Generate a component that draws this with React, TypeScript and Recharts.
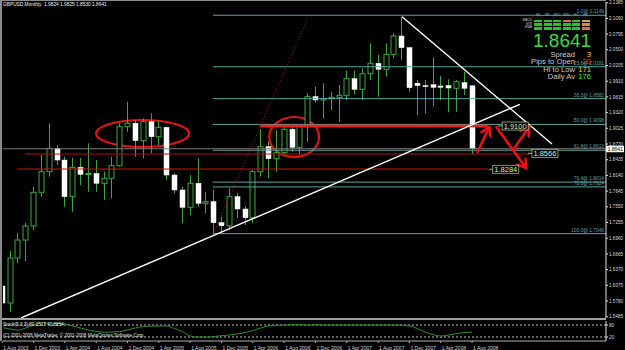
import React from 'react';
import {
  ComposedChart, Bar, Line, XAxis, YAxis, ReferenceLine, ReferenceArea, ReferenceDot,
} from 'recharts';

// monthly bars, Aug 2003 .. Aug 2008
const opens = [
  1.6062, 1.5742, 1.6588, 1.6926, 1.7189, 1.7822, 1.8210, 1.8649, 1.8429, 1.7740,
  1.8292, 1.8161, 1.8176, 1.7992, 1.8086, 1.8322, 1.9055, 1.9119, 1.8792, 1.9149,
  1.8867, 1.9044, 1.8147, 1.7866, 1.7541, 1.7992, 1.7616, 1.7646, 1.7251, 1.7195,
  1.7740, 1.7509, 1.7345, 1.8210, 1.8679, 1.8454, 1.8567, 1.9006, 1.8668, 1.9055,
  1.9619, 1.9557, 1.9581, 1.9607, 1.9645, 1.9957, 1.9758, 2.0051, 2.0246, 2.0134,
  2.0415, 2.0759, 2.0539, 1.9871, 1.9826, 1.9844, 1.9820, 1.9826, 1.9777, 1.9882,
  1.9824,
];
const highs = [
  1.6118, 1.6725, 1.7058, 1.7246, 1.7928, 1.8523, 1.9119, 1.8711, 1.8491, 1.8467,
  1.8467, 1.8743, 1.8429, 1.8210, 1.8491, 1.9119, 1.9525, 1.9181, 1.9213, 1.9307,
  1.9168, 1.9055, 1.8179, 1.7928, 1.8147, 1.8461, 1.7834, 1.7866, 1.7364, 1.7898,
  1.7804, 1.7571, 1.8241, 1.9006, 1.8773, 1.8993, 1.9087, 1.9055, 1.9087, 1.9683,
  1.9807, 1.9871, 1.9713, 1.9839, 2.0107, 2.0107, 2.0152, 2.0622, 2.0402, 2.0622,
  2.0810, 2.1122, 2.0558, 1.9933, 1.9933, 2.0359, 2.0008, 1.9946, 1.9933, 2.0089,
  1.9825,
];
const lows = [
  1.5686, 1.5579, 1.6494, 1.6530, 1.7114, 1.7740, 1.8116, 1.8335, 1.7552, 1.7458,
  1.7960, 1.7834, 1.7834, 1.7678, 1.7710, 1.8303, 1.8961, 1.8491, 1.8461, 1.8555,
  1.8711, 1.8054, 1.7804, 1.7240, 1.7396, 1.7552, 1.7428, 1.7052, 1.7082, 1.7114,
  1.7334, 1.7208, 1.7240, 1.8116, 1.8086, 1.8210, 1.8530, 1.8585, 1.8523, 1.8773,
  1.9500, 1.9213, 1.9369, 1.9149, 1.9557, 1.9664, 1.9557, 1.9933, 1.9619, 1.9995,
  2.0340, 2.0308, 1.9713, 1.9275, 1.9307, 1.9431, 1.9557, 1.9326, 1.9337, 1.9651,
  1.8530,
];
const closes = [
  1.5742, 1.6588, 1.6926, 1.7189, 1.7822, 1.8210, 1.8649, 1.8429, 1.7740, 1.8292,
  1.8161, 1.8176, 1.7992, 1.8086, 1.8322, 1.9055, 1.9119, 1.8792, 1.9149, 1.8867,
  1.9044, 1.8147, 1.7866, 1.7541, 1.7992, 1.7616, 1.7646, 1.7251, 1.7195, 1.7740,
  1.7509, 1.7345, 1.8210, 1.8679, 1.8454, 1.8567, 1.9006, 1.8668, 1.9055, 1.9619,
  1.9557, 1.9581, 1.9607, 1.9645, 1.9957, 1.9758, 2.0051, 2.0246, 2.0134, 2.0415,
  2.0759, 2.0539, 1.9788, 1.9826, 1.9822, 1.9795, 1.9795, 1.9782, 1.9901, 1.9777,
  1.8641,
];
const stoch = [
  67, 60, 55, 65, 80, 90, 90, 88, 85, 75, 65, 55, 48, 44, 45, 47, 55, 65, 72, 75,
  75, 75, 62, 48, 25, 20, 20, 22, 27, 30, 35, 42, 52, 65, 75, 78, 80, 81, 81, 80,
  81, 80, 80, 80, 80, 81, 80, 80, 80, 80, 80, 79, 75, 62, 45, 32, 25, 30, 37, 42, 45,
];
const dateLabels = [
  '1 Aug 2003', '1 Dec 2003', '1 Apr 2004', '1 Aug 2004', '1 Dec 2004', '1 Apr 2005',
  '1 Aug 2005', '1 Dec 2005', '1 Apr 2006', '1 Aug 2006', '1 Dec 2006', '1 Apr 2007',
  '1 Aug 2007', '1 Dec 2007', '1 Apr 2008', '1 Aug 2008',
];
const priceTicks = [
  2.1385, 2.1090, 2.0795, 2.0500, 2.0205, 1.9910, 1.9615, 1.9320, 1.9025, 1.8730,
  1.8435, 1.8140, 1.7845, 1.7550, 1.7255, 1.6960, 1.6665, 1.6370, 1.6075, 1.5780, 1.5485,
];
const fibRatios = ['0.0', '23.6', '38.2', '50.0', '61.8', '76.4', '78.6', '100.0'];
const fibPrices = [2.1149, 2.0181, 1.9582, 1.9098, 1.8613, 1.8014, 1.7924, 1.7046];
const lastPrice = 1.8641;

// drawn objects (bar index, price)
const redLevels = [
  { from: 32.9, to: 62.0, price: 1.9068, width: 2.5, color: '#ff1a1a' },
  { from: 2.9, to: 67.4, price: 1.8542, width: 1, color: '#b01010' },
  { from: 1.9, to: 62.0, price: 1.8260, width: 1, color: '#d01515' },
];
const priceTags = [
  { i: 65.5, price: 1.9068, text: '1.9100' },
  { i: 69.3, price: 1.8555, text: '1.8566' },
  { i: 64.3, price: 1.8255, text: '1.8284' },
];
const trendLines = [
  { a: [2.4, 1.5461], b: [66.1, 1.9476] },
  { a: [51.06, 2.1122], b: [70.2, 1.8730] },
];
const projection = { a: [26.9, 1.7020], b: [38.9, 2.1060] };
const arrows = [
  { a: [60.7, 1.8580], b: [62.2, 1.9049] },
  { a: [63.1, 1.9049], b: [66.9, 1.8279] },
  { a: [65.4, 1.8655], b: [67.3, 1.9049] },
];
const ellipses = [
  { x1: 11.98, x2: 23.86, y1: 1.8674, y2: 1.9181 },
  { x1: 34.1, x2: 40.46, y1: 1.8486, y2: 1.9237 },
];

const timeframes = ['M1', 'M5', 'M15', 'M30', 'H1', 'H4'];
const signalRows = ['MACD', 'STR', 'EMA'];
const signals = [
  ['g', 'g', 'g', 'r', 'g', 'y'],
  ['g', 'g', 'g', 'g', 'g', 'o'],
  ['g', 'g', 'g', 'g', 'g', 'r'],
];
const statNames = ['Spread', 'Pips to Open', 'Hi to Low', 'Daily Av'];
const statValues = ['3', '20', '171', '176'];
const statColors = ['#f0d000', '#e84a20', '#f0d000', '#40e040'];

const data = opens.map((o, i) => ({
  i,
  open: o,
  high: highs[i],
  low: lows[i],
  close: closes[i],
  range: [lows[i], highs[i]],
  stoch: stoch[i],
}));

const X_DOMAIN = [0.1, 77.1];
const FONT = 'Liberation Sans, Arial, sans-serif';
const WICK = '#3aa83a';
const FIB = '#5fa3a3';
const sigColor: Record<string, string> = { g: '#27c427', r: '#e06060', y: '#c8b020', o: '#e08a20' };

const Candle = (props: any) => {
  const { x, y, width, height, payload } = props;
  if (!payload || !height) return null;
  const k = height / (payload.high - payload.low);
  const py = (p: number) => y + (payload.high - p) * k;
  const cx = Math.round(x + width / 2) + 0.5;
  const up = payload.close > payload.open;
  const top = py(Math.max(payload.open, payload.close));
  const bot = py(Math.min(payload.open, payload.close));
  return (
    <g>
      <line x1={cx} x2={cx} y1={y} y2={y + height} stroke={WICK} strokeWidth={1} />
      <rect
        x={cx - 2.5}
        y={top}
        width={5}
        height={Math.max(bot - top, 1)}
        fill={up ? '#000' : '#fff'}
        stroke={up ? WICK : '#fff'}
        strokeWidth={up ? 1 : 0.5}
      />
    </g>
  );
};

const ArrowShape = (props: any) => {
  const { x1, y1, x2, y2 } = props;
  const a = Math.atan2(y2 - y1, x2 - x1);
  const L = 8;
  const W = 5;
  const bx = x2 - L * Math.cos(a);
  const by = y2 - L * Math.sin(a);
  const p1 = `${bx + W * Math.sin(a)},${by - W * Math.cos(a)}`;
  const p2 = `${bx - W * Math.sin(a)},${by + W * Math.cos(a)}`;
  return (
    <g stroke="#ee1111" strokeWidth={2.5} fill="none" strokeLinecap="round">
      <line x1={x1} y1={y1} x2={x2} y2={y2} />
      <polyline points={`${p1} ${x2},${y2} ${p2}`} />
    </g>
  );
};

const EllipseShape = (props: any) => {
  const { x, y, width, height } = props;
  return (
    <ellipse cx={x + width / 2} cy={y + height / 2} rx={width / 2} ry={height / 2}
      fill="none" stroke="#e01414" strokeWidth={2.2} />
  );
};

const tagShape = (text: string) => (props: any) => {
  const { cx, cy } = props;
  return (
    <g>
      <line x1={cx - 17} x2={cx - 13} y1={cy} y2={cy} stroke="#9cc08c" />
      <rect x={cx - 13} y={cy - 4} width={26} height={8} fill="#000" stroke="#9cc08c" strokeWidth={0.8} />
      <text x={cx} y={cy + 2.6} textAnchor="middle" fontSize={7.5} fill="#d8e8d0" fontFamily={FONT}>{text}</text>
    </g>
  );
};

const PriceBox = (props: any) => {
  const { viewBox } = props;
  const x = viewBox.x + viewBox.width;
  return (
    <g>
      <rect x={x} y={viewBox.y - 3} width={18} height={6.5} fill="#fff" />
      <text x={x + 1.5} y={viewBox.y + 2} fontSize={5} fill="#000" fontFamily={FONT}>{lastPrice.toFixed(4)}</text>
    </g>
  );
};

const DateTick = (props: any) => {
  const { x, y, payload } = props;
  return (
    <text x={x + 1} y={y + 5} fontSize={5} fill="#d0d0d0" fontFamily={FONT}>
      {dateLabels[Math.round(payload.value / 4)]}
    </text>
  );
};

export default function App() {
  return (
    <div style={{ position: 'absolute', left: 0, top: 0, width: 625, height: 350, background: '#000', overflow: 'hidden', fontFamily: FONT }}>
      <ComposedChart width={625} height={318} data={data} margin={{ top: 2, right: 0, left: 3, bottom: 0 }}>
        <XAxis dataKey="i" type="number" domain={X_DOMAIN} allowDataOverflow hide />
        <YAxis
          orientation="right"
          width={19}
          domain={[1.5461, 2.1398]}
          allowDataOverflow
          ticks={priceTicks}
          interval={0}
          tickFormatter={(v: number) => v.toFixed(4)}
          axisLine={{ stroke: '#e0e0e0' }}
          tickLine={{ stroke: '#e0e0e0' }}
          tickSize={2}
          tickMargin={1}
          tick={{ fill: '#d8d8d8', fontSize: 4.6, fontFamily: FONT }}
        />
        {fibPrices.map((p, k) => (
          <ReferenceLine
            key={'fib' + k}
            segment={[{ x: 26.9, y: p }, { x: X_DOMAIN[1], y: p }]}
            stroke={FIB}
            strokeWidth={1}
            ifOverflow="hidden"
            label={{ value: `${fibRatios[k]}@ ${p.toFixed(4)}`, position: 'insideBottomRight', offset: 2, fill: FIB, fontSize: 4.8, fontFamily: FONT }}
          />
        ))}
        <ReferenceLine y={lastPrice} stroke="#7a7a7a" strokeWidth={1} label={<PriceBox />} />
        {redLevels.map((r, k) => (
          <ReferenceLine
            key={'red' + k}
            segment={[{ x: r.from, y: r.price }, { x: r.to, y: r.price }]}
            stroke={r.color}
            strokeWidth={r.width}
            ifOverflow="hidden"
          />
        ))}
        <Bar dataKey="range" barSize={5} shape={<Candle />} isAnimationActive={false} />
        <ReferenceLine
          segment={[{ x: projection.a[0], y: projection.a[1] }, { x: projection.b[0], y: projection.b[1] }]}
          stroke="#b02020"
          strokeDasharray="1 2"
          ifOverflow="hidden"
        />
        {trendLines.map((t, k) => (
          <ReferenceLine
            key={'tl' + k}
            segment={[{ x: t.a[0], y: t.a[1] }, { x: t.b[0], y: t.b[1] }]}
            stroke="#ffffff"
            strokeWidth={1.4}
            ifOverflow="hidden"
          />
        ))}
        {ellipses.map((e, k) => (
          <ReferenceArea key={'el' + k} x1={e.x1} x2={e.x2} y1={e.y1} y2={e.y2} shape={<EllipseShape />} ifOverflow="visible" />
        ))}
        {arrows.map((a, k) => (
          <ReferenceLine
            key={'ar' + k}
            segment={[{ x: a.a[0], y: a.a[1] }, { x: a.b[0], y: a.b[1] }]}
            shape={<ArrowShape />}
            ifOverflow="visible"
          />
        ))}
        {priceTags.map((t, k) => (
          <ReferenceDot key={'tag' + k} x={t.i} y={t.price} shape={tagShape(t.text)} ifOverflow="visible" />
        ))}
      </ComposedChart>

      <div style={{ position: 'absolute', left: 0, top: 318, width: 606, height: 2, background: '#a0a0a0' }} />

      <div style={{ position: 'absolute', left: 0, top: 320 }}>
        <ComposedChart width={625} height={30} data={data} margin={{ top: 1, right: 0, left: 3, bottom: 0 }}>
          <XAxis
            dataKey="i"
            type="number"
            domain={X_DOMAIN}
            allowDataOverflow
            ticks={dateLabels.map((_, k) => k * 4)}
            interval={0}
            height={9}
            axisLine={{ stroke: '#b0b0b0' }}
            tickLine={{ stroke: '#b0b0b0' }}
            tickSize={2}
            tick={<DateTick />}
          />
          <YAxis
            orientation="right"
            width={19}
            domain={[0, 100]}
            ticks={[80, 20]}
            interval={0}
            axisLine={{ stroke: '#e0e0e0' }}
            tickLine={{ stroke: '#e0e0e0' }}
            tickSize={2}
            tickMargin={1}
            tick={{ fill: '#d8d8d8', fontSize: 4.6, fontFamily: FONT }}
          />
          <ReferenceLine y={80} stroke="#c0c0c0" strokeDasharray="2 2" />
          <ReferenceLine y={20} stroke="#c0c0c0" strokeDasharray="2 2" />
          <Line dataKey="stoch" type="monotone" stroke="#2f8f2f" strokeWidth={1} dot={false} isAnimationActive={false} />
        </ComposedChart>
      </div>

      <div style={{ position: 'absolute', left: 3, top: 322, fontSize: 4.6, lineHeight: '5px', color: '#e0e0e0', whiteSpace: 'nowrap' }}>
        Stoch(5,3,3) 80.2517 41.8854
      </div>
      <div style={{ position: 'absolute', left: 3, top: 333, fontSize: 4.6, lineHeight: '5px', color: '#e0e0e0', whiteSpace: 'nowrap' }}>
        (C) 2001-2008 MetaTrader, © 2001-2008 MetaQuotes Software Corp.
      </div>

      <div style={{ position: 'absolute', left: 3, top: 2, fontSize: 4.8, lineHeight: '6px', color: '#f0f0f0', whiteSpace: 'nowrap' }}>
        GBPUSD,Monthly&nbsp; 1.9824 1.9825 1.8530 1.8641
      </div>

      <div style={{ position: 'absolute', left: 0, top: 0, width: 2, height: 341, background: '#8a8a8a' }} />
      <div style={{ position: 'absolute', left: 0, top: 0, width: 606, height: 1, background: '#8a8a8a' }} />

      {/* signal panel */}
      <div style={{ position: 'absolute', left: 534, top: 12.5, display: 'flex', gap: 1.5 }}>
        {timeframes.map((t) => (
          <div key={t} style={{ width: 8, fontSize: 3.4, lineHeight: '4px', color: '#7fb8b8', textAlign: 'center' }}>{t}</div>
        ))}
      </div>
      <div style={{ position: 'absolute', left: 516, top: 19, width: 16, fontSize: 3.2, lineHeight: '3.7px', color: '#d0d0d0', textAlign: 'right' }}>
        {signalRows.map((r) => <div key={r}>{r}</div>)}
      </div>
      <div style={{ position: 'absolute', left: 534, top: 19.5 }}>
        {signals.map((row, r) => (
          <div key={r} style={{ display: 'flex', gap: 1.5, marginBottom: 1.2 }}>
            {row.map((s, c) => (
              <div key={c} style={{ width: 8, height: 2.6, background: sigColor[s] }} />
            ))}
          </div>
        ))}
      </div>
      <div style={{ position: 'absolute', left: 533, top: 32, fontSize: 19, color: '#3cdc3c', lineHeight: '17px' }}>
        {lastPrice.toFixed(4)}
      </div>
      <div style={{ position: 'absolute', left: 500, top: 51, width: 92 }}>
        {statNames.map((n, k) => (
          <div key={n} style={{ display: 'flex', height: 7.3, lineHeight: '7.3px', fontSize: 7.6 }}>
            <span style={{ width: 75, textAlign: 'right', color: '#c8c8c8' }}>{n}</span>
            <span style={{ width: 16, textAlign: 'right', color: statColors[k] }}>{statValues[k]}</span>
          </div>
        ))}
      </div>
    </div>
  );
}
